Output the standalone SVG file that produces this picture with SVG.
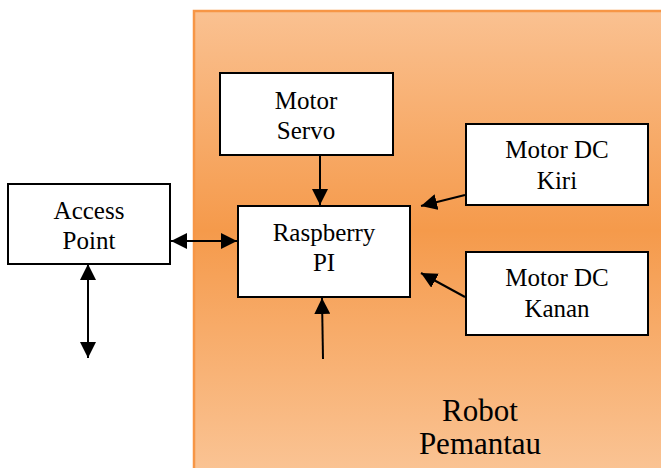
<svg xmlns="http://www.w3.org/2000/svg" width="661" height="468" viewBox="0 0 661 468">
<defs>
<linearGradient id="bg" gradientUnits="userSpaceOnUse" x1="0" y1="11" x2="0" y2="468">
<stop offset="0" stop-color="#FAC191"/>
<stop offset="0.48" stop-color="#F59A4B"/>
<stop offset="1" stop-color="#FAC393"/>
</linearGradient>
<marker id="ah" viewBox="0 0 16 16" refX="16" refY="8" markerWidth="16" markerHeight="16" markerUnits="userSpaceOnUse" orient="auto-start-reverse">
<path d="M0,0 L16,8 L0,16 Z" fill="#000"/>
</marker>
</defs>
<style>
.box{fill:#fff;stroke:#000;stroke-width:2}
.lbl{font-family:"Liberation Serif","Times New Roman",serif;font-size:25px;fill:#000;text-anchor:middle}
.big{font-family:"Liberation Serif","Times New Roman",serif;font-size:31px;fill:#000;text-anchor:middle}
.c{stroke:#000;stroke-width:2;fill:none}
</style>
<g id="robot-pemantau">
<rect x="194" y="11" width="480" height="470" fill="url(#bg)" stroke="#F79646" stroke-width="2.5"/>
<text class="big" x="480" y="421">Robot</text>
<text class="big" x="480" y="454">Pemantau</text>
</g>
<g id="access-point">
<rect class="box" x="8" y="184" width="162" height="80"/>
<text class="lbl" x="89" y="219">Access</text>
<text class="lbl" x="89" y="249">Point</text>
</g>
<g id="motor-servo">
<rect class="box" x="220" y="73" width="173" height="82"/>
<text class="lbl" x="306" y="109">Motor</text>
<text class="lbl" x="306" y="139">Servo</text>
</g>
<g id="raspberry-pi">
<rect class="box" x="238" y="206" width="172" height="91"/>
<text class="lbl" x="324" y="241">Raspberry</text>
<text class="lbl" x="324" y="271">PI</text>
</g>
<g id="motor-dc-kiri">
<rect class="box" x="466" y="124" width="182" height="81"/>
<text class="lbl" x="557" y="158">Motor DC</text>
<text class="lbl" x="557" y="189">Kiri</text>
</g>
<g id="motor-dc-kanan">
<rect class="box" x="466" y="252" width="182" height="83"/>
<text class="lbl" x="557" y="286">Motor DC</text>
<text class="lbl" x="557" y="317">Kanan</text>
</g>
<g id="connectors">
<line class="c" x1="320" y1="155" x2="320" y2="205" marker-end="url(#ah)"/>
<line class="c" x1="171" y1="241" x2="237" y2="241" marker-start="url(#ah)" marker-end="url(#ah)"/>
<line class="c" x1="88" y1="264" x2="88" y2="358" marker-start="url(#ah)" marker-end="url(#ah)"/>
<line class="c" x1="465" y1="195" x2="421" y2="206" marker-end="url(#ah)"/>
<line class="c" x1="465" y1="297" x2="421" y2="273" marker-end="url(#ah)"/>
<line class="c" x1="323" y1="359" x2="322" y2="298" marker-end="url(#ah)"/>
</g>
</svg>
